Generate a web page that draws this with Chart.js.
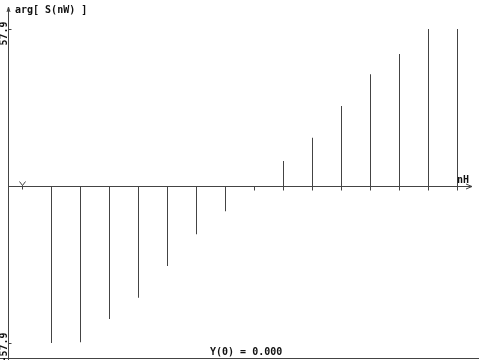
<!DOCTYPE html>
<html>
<head>
<meta charset="utf-8">
<script src="https://cdn.jsdelivr.net/npm/chart.js@4/dist/chart.umd.min.js"></script>
<style>
html,body{margin:0;padding:0;background:#fff;}
#wrap{width:479px;height:360px;}
</style>
</head>
<body>
<div id="wrap"><canvas id="c" width="479" height="360"></canvas></div>
<script>
const categories = ['0','1','2','3','4','5','6','7','8','9','10','11','12','13','14','15'];
const phaseValues = [0, -57.9, -57.6, -49.0, -41.2, -29.5, -17.8, -9.3, 0, 9.2, 17.8, 29.5, 41.2, 48.7, 57.9, 57.9];
const yTickLabels = ['57.9', '-57.9'];
const yTickValues = [57.9, -57.9];
const titleText = 'arg[ S(nW) ]';
const xAxisLabel = 'nH';
const footerText = 'Y(0) = 0.000';

const BOLD = 'bold 10px "DejaVu Sans Mono", "Liberation Mono", monospace';
const INK = '#444';

const axesPlugin = {
  id: 'stemAxes',
  afterDatasetsDraw(chart) {
    const ctx = chart.ctx;
    const xs = chart.scales.x, ys = chart.scales.y;
    const area = chart.chartArea;
    const y0 = Math.round(ys.getPixelForValue(0)) + 0.5;
    const ax = Math.round(area.left) + 0.5;
    ctx.save();
    ctx.strokeStyle = INK;
    ctx.lineWidth = 1;
    ctx.beginPath();
    ctx.moveTo(ax, area.top - 2);
    ctx.lineTo(ax, 360);
    ctx.stroke();
    ctx.beginPath();
    ctx.moveTo(ax - 1.5, area.top + 2);
    ctx.lineTo(ax, area.top - 3);
    ctx.lineTo(ax + 1.5, area.top + 2);
    ctx.stroke();
    ctx.beginPath();
    ctx.moveTo(ax, y0);
    ctx.lineTo(area.right, y0);
    ctx.stroke();
    ctx.beginPath();
    ctx.moveTo(area.right - 6, y0 - 2.5);
    ctx.lineTo(area.right, y0);
    ctx.lineTo(area.right - 6, y0 + 2.5);
    ctx.stroke();
    ctx.beginPath();
    ctx.moveTo(0, 358.5);
    ctx.lineTo(479, 358.5);
    ctx.stroke();
    for (let i = 1; i < categories.length; i++) {
      const px = Math.round(xs.getPixelForValue(i)) - 0.5;
      ctx.beginPath();
      ctx.moveTo(px, y0);
      ctx.lineTo(px, y0 + 4);
      ctx.stroke();
    }
    const p0 = Math.round(xs.getPixelForValue(0)) - 0.5;
    ctx.beginPath();
    ctx.moveTo(p0 - 3, y0 - 5);
    ctx.lineTo(p0, y0 - 1);
    ctx.lineTo(p0 + 3, y0 - 5);
    ctx.moveTo(p0, y0 - 1);
    ctx.lineTo(p0, y0 + 3);
    ctx.stroke();
    ctx.fillStyle = '#111';
    ctx.font = BOLD;
    for (let k = 0; k < yTickValues.length; k++) {
      const py = Math.round(ys.getPixelForValue(yTickValues[k])) + 0.5;
      ctx.beginPath();
      ctx.moveTo(ax, py);
      ctx.lineTo(ax + 3, py);
      ctx.stroke();
      ctx.save();
      ctx.translate(4, py + 4);
      ctx.rotate(-Math.PI / 2);
      ctx.textAlign = 'center';
      ctx.textBaseline = 'middle';
      ctx.fillText(yTickLabels[k], 0, 0);
      ctx.restore();
    }
    ctx.textBaseline = 'alphabetic';
    ctx.textAlign = 'left';
    ctx.fillText(titleText, 15, 13);
    ctx.fillText(xAxisLabel, 457, y0 - 4);
    ctx.fillText(footerText, 210, 355);
    ctx.restore();
  }
};

new Chart(document.getElementById('c'), {
  type: 'bar',
  data: {
    labels: categories,
    datasets: [{
      data: phaseValues,
      backgroundColor: INK,
      borderWidth: 0,
      barThickness: 1,
      inflateAmount: 0,
      borderSkipped: false
    }]
  },
  options: {
    responsive: false,
    animation: false,
    devicePixelRatio: 1,
    layout: { padding: { left: 8, right: 7, top: 10, bottom: 2 } },
    plugins: { legend: { display: false }, tooltip: { enabled: false }, title: { display: false } },
    scales: {
      x: { display: false, offset: true },
      y: { display: false, min: -63.4, max: 64.9 }
    }
  },
  plugins: [axesPlugin]
});
</script>
</body>
</html>
